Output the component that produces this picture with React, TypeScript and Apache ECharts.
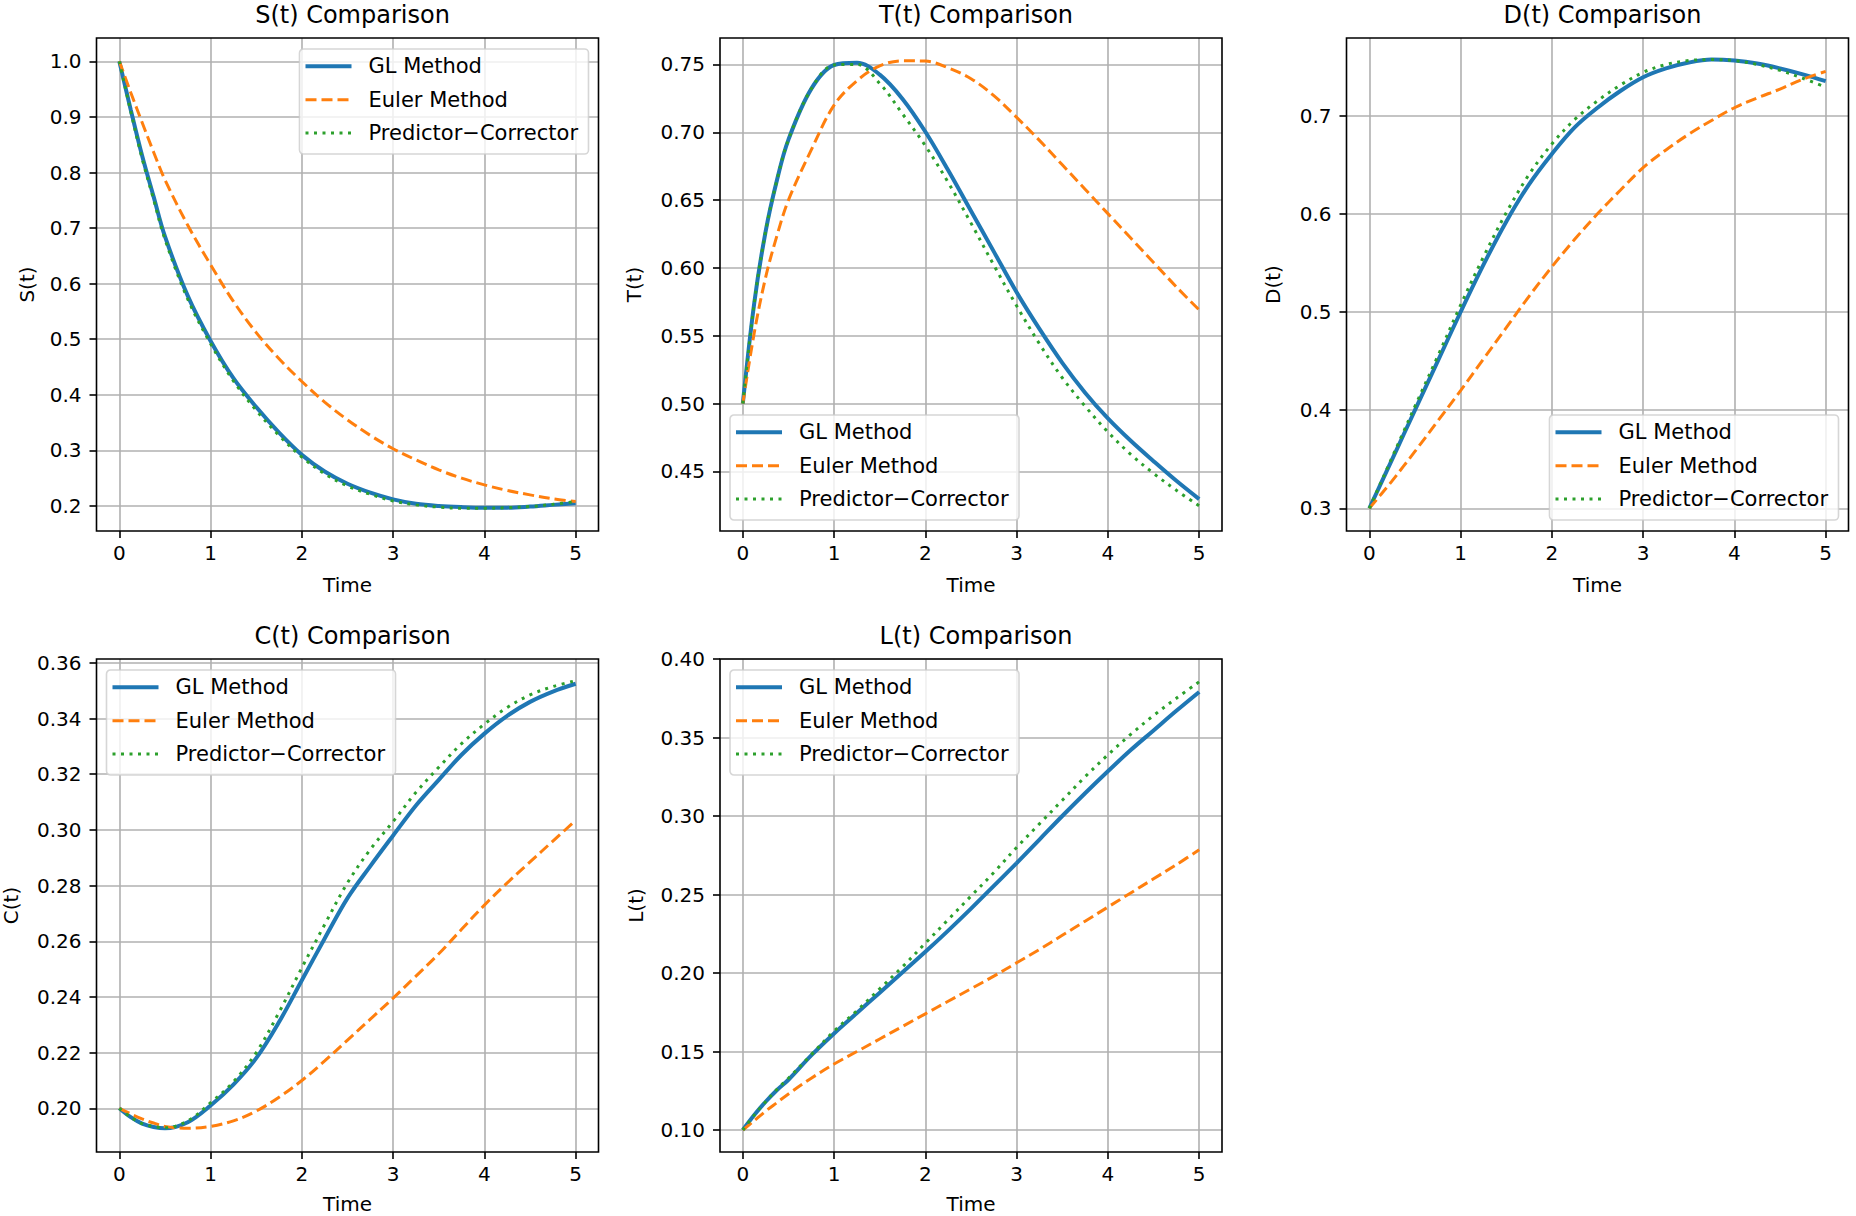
import React, { useEffect, useRef } from "react";
import * as echarts from "echarts";

// ---------- data ----------
const TIME = [0, 0.125, 0.25, 0.375, 0.5, 0.75, 1, 1.25, 1.5, 1.75, 2, 2.25, 2.5, 2.75, 3, 3.25, 3.5, 3.75, 4, 4.25, 4.5, 4.75, 5];

const S_GL = [1.0, 0.913, 0.83, 0.757, 0.685, 0.578, 0.497, 0.43, 0.378, 0.332, 0.292, 0.262, 0.24, 0.224, 0.212, 0.204, 0.2, 0.198, 0.197, 0.197, 0.199, 0.202, 0.205];
const S_EULER = [1.0, 0.944, 0.89, 0.837, 0.787, 0.705, 0.634, 0.568, 0.512, 0.465, 0.424, 0.387, 0.355, 0.327, 0.303, 0.283, 0.265, 0.25, 0.238, 0.228, 0.22, 0.213, 0.208];
const S_PC = [1.0, 0.91, 0.825, 0.752, 0.68, 0.572, 0.492, 0.425, 0.372, 0.327, 0.288, 0.258, 0.236, 0.221, 0.209, 0.202, 0.198, 0.196, 0.196, 0.197, 0.199, 0.203, 0.208];

const T_GL = [0.5, 0.574, 0.627, 0.665, 0.6946, 0.732, 0.7496, 0.7513, 0.7425, 0.7246, 0.7004, 0.672, 0.642, 0.612, 0.582, 0.555, 0.53, 0.508, 0.489, 0.4725, 0.4575, 0.443, 0.4295];
const T_EULER = [0.5, 0.552, 0.593, 0.624, 0.65, 0.687, 0.72, 0.738, 0.749, 0.7527, 0.7525, 0.7475, 0.7395, 0.727, 0.711, 0.694, 0.676, 0.658, 0.64, 0.622, 0.604, 0.586, 0.569];
const T_PC = [0.5, 0.574, 0.627, 0.665, 0.6946, 0.732, 0.7496, 0.75, 0.736, 0.7135, 0.69, 0.663, 0.633, 0.602, 0.572, 0.544, 0.519, 0.498, 0.479, 0.4625, 0.4485, 0.436, 0.4245];

const D_GL = [0.3, 0.325, 0.35, 0.375, 0.4, 0.45, 0.5, 0.548, 0.592, 0.63, 0.661, 0.688, 0.708, 0.725, 0.739, 0.748, 0.754, 0.757, 0.756, 0.753, 0.748, 0.742, 0.735];
const D_EULER = [0.3, 0.314, 0.328, 0.343, 0.358, 0.389, 0.42, 0.452, 0.484, 0.516, 0.546, 0.574, 0.6, 0.624, 0.647, 0.665, 0.681, 0.695, 0.708, 0.718, 0.727, 0.737, 0.745];
const D_PC = [0.3, 0.326, 0.352, 0.378, 0.404, 0.455, 0.507, 0.556, 0.601, 0.64, 0.671, 0.696, 0.715, 0.731, 0.744, 0.752, 0.756, 0.757, 0.756, 0.752, 0.746, 0.738, 0.729];

const C_GL = [0.2, 0.1968, 0.1945, 0.1933, 0.1928, 0.195, 0.201, 0.2085, 0.218, 0.231, 0.246, 0.261, 0.2755, 0.287, 0.298, 0.3088, 0.318, 0.327, 0.3346, 0.341, 0.346, 0.3497, 0.3525];
const C_EULER = [0.2, 0.198, 0.1962, 0.1947, 0.1935, 0.1928, 0.1935, 0.1955, 0.199, 0.204, 0.21, 0.217, 0.2245, 0.232, 0.2396, 0.2475, 0.2555, 0.2643, 0.273, 0.281, 0.2885, 0.296, 0.3034];
const C_PC = [0.2, 0.1968, 0.1945, 0.1935, 0.193, 0.1955, 0.202, 0.2095, 0.22, 0.2345, 0.2505, 0.266, 0.281, 0.293, 0.303, 0.3135, 0.3225, 0.331, 0.338, 0.344, 0.3485, 0.3515, 0.3536];

const L_GL = [0.1, 0.1095, 0.118, 0.1255, 0.132, 0.1475, 0.1615, 0.1745, 0.1875, 0.2005, 0.2135, 0.227, 0.241, 0.2555, 0.27, 0.285, 0.3, 0.3145, 0.3285, 0.342, 0.3545, 0.367, 0.379];
const L_EULER = [0.1, 0.106, 0.112, 0.1175, 0.123, 0.133, 0.142, 0.15, 0.158, 0.166, 0.174, 0.182, 0.19, 0.198, 0.2065, 0.215, 0.224, 0.233, 0.242, 0.251, 0.26, 0.269, 0.2785];
const L_PC = [0.1, 0.1095, 0.118, 0.126, 0.133, 0.148, 0.163, 0.176, 0.19, 0.204, 0.219, 0.234, 0.249, 0.264, 0.28, 0.295, 0.31, 0.325, 0.339, 0.352, 0.364, 0.375, 0.3855];

const X_TICKS = [0, 1, 2, 3, 4, 5];
const S_TICKS = [0.2, 0.3, 0.4, 0.5, 0.6, 0.7, 0.8, 0.9, 1.0];
const T_TICKS = [0.45, 0.5, 0.55, 0.6, 0.65, 0.7, 0.75];
const D_TICKS = [0.3, 0.4, 0.5, 0.6, 0.7];
const C_TICKS = [0.2, 0.22, 0.24, 0.26, 0.28, 0.3, 0.32, 0.34, 0.36];
const L_TICKS = [0.1, 0.15, 0.2, 0.25, 0.3, 0.35, 0.4];

const LABELS = ["GL Method", "Euler Method", "Predictor\u2212Corrector"];
const TITLES = ["S(t) Comparison", "T(t) Comparison", "D(t) Comparison", "C(t) Comparison", "L(t) Comparison"];
const Y_NAMES = ["S(t)", "T(t)", "D(t)", "C(t)", "L(t)"];

// ---------- layout / style ----------
const FONT = '"DejaVu Sans", "Liberation Sans", sans-serif';
const COL_LEFT = [96.5, 720, 1346.5];
const ROW_TOP = [38, 659];
const PW = 502;
const PH = 493;
const LEG_W = 289;
const LEG_H = 105;
const COLORS = ["#1f77b4", "#ff7f0e", "#2ca02c"];
const WIDTHS = [4, 3, 3];
const DASHES: any[] = ["solid", [11, 5], [3, 5.5]];

const PANELS = [
  { series: [S_GL, S_EULER, S_PC], ticks: S_TICKS, ymin: 0.155, ymax: 1.042, dec: 1, col: 0, row: 0, legend: "ur", nameGap: 60 },
  { series: [T_GL, T_EULER, T_PC], ticks: T_TICKS, ymin: 0.406, ymax: 0.7695, dec: 2, col: 1, row: 0, legend: "ll", nameGap: 76.5 },
  { series: [D_GL, D_EULER, D_PC], ticks: D_TICKS, ymin: 0.277, ymax: 0.779, dec: 1, col: 2, row: 0, legend: "lr", nameGap: 64 },
  { series: [C_GL, C_EULER, C_PC], ticks: C_TICKS, ymin: 0.1843, ymax: 0.3614, dec: 2, col: 0, row: 1, legend: "ul", nameGap: 76 },
  { series: [L_GL, L_EULER, L_PC], ticks: L_TICKS, ymin: 0.086, ymax: 0.4, dec: 2, col: 1, row: 1, legend: "ul", nameGap: 74 },
];

function buildOption() {
  const grid: any[] = [];
  const xAxis: any[] = [];
  const yAxis: any[] = [];
  const series: any[] = [];
  const title: any[] = [];
  const graphic: any[] = [];

  PANELS.forEach((p, i) => {
    const left = COL_LEFT[p.col];
    const top = ROW_TOP[p.row];
    grid.push({
      left, top, width: PW, height: PH,
      containLabel: false, outerBoundsMode: "none",
      show: true, backgroundColor: "#fff", borderWidth: 0,
    });
    title.push({
      text: TITLES[i],
      left: left + PW / 2,
      textAlign: "center",
      top: top - 40,
      textStyle: { fontFamily: FONT, fontSize: 24, fontWeight: "normal", color: "#000" },
    });
    xAxis.push({
      type: "value", gridIndex: i, min: -0.25, max: 5.25,
      name: "Time", nameLocation: "middle", nameGap: p.row === 0 ? 44 : 42,
      nameTextStyle: { fontFamily: FONT, fontSize: 20, color: "#000" },
      axisLine: { show: false, onZero: false },
      axisTick: { show: true, inside: false, length: 7, lineStyle: { color: "#000", width: 1.6 }, customValues: X_TICKS },
      axisLabel: { show: true, margin: 12, fontFamily: FONT, fontSize: 20, color: "#000", customValues: X_TICKS, formatter: (v: number) => String(v) },
      splitLine: { show: true, lineStyle: { color: "#b0b0b0", width: 1.6 } },
    });
    yAxis.push({
      type: "value", gridIndex: i, min: p.ymin, max: p.ymax,
      name: Y_NAMES[i], nameLocation: "middle", nameGap: p.nameGap, nameRotate: 90,
      nameTextStyle: { fontFamily: FONT, fontSize: 20, color: "#000" },
      axisLine: { show: false, onZero: false },
      axisTick: { show: true, inside: false, length: 7, lineStyle: { color: "#000", width: 1.6 }, customValues: p.ticks },
      axisLabel: { show: true, margin: 15, fontFamily: FONT, fontSize: 20, color: "#000", customValues: p.ticks, formatter: (v: number) => v.toFixed(p.dec) },
      splitLine: { show: true, lineStyle: { color: "#b0b0b0", width: 1.6 } },
    });
    p.series.forEach((arr, k) => {
      series.push({
        type: "line", name: LABELS[k], xAxisIndex: i, yAxisIndex: i,
        data: TIME.map((t, j) => [t, arr[j]]),
        showSymbol: false, symbol: "none", smooth: 0.35, silent: true,
        z: 2 + k,
        lineStyle: { color: COLORS[k], width: WIDTHS[k], type: DASHES[k], cap: "butt" },
      });
    });
    // frame (axes spines)
    graphic.push({
      type: "rect", z: 50, silent: true,
      shape: { x: left, y: top, width: PW, height: PH },
      style: { fill: "none", stroke: "#000", lineWidth: 1.6 },
    });
    // legend box
    let lx = left + 10;
    let ly = top + 11;
    if (p.legend === "ur") lx = left + PW - 10 - LEG_W;
    if (p.legend === "lr") { lx = left + PW - 10 - LEG_W; ly = top + PH - 11 - LEG_H; }
    if (p.legend === "ll") { ly = top + PH - 11 - LEG_H; }
    const rowsY = [17.3, 50.7, 84];
    const children: any[] = [
      {
        type: "rect", z: 100, shape: { x: 0, y: 0, width: LEG_W, height: LEG_H, r: 4 },
        style: { fill: "rgba(255,255,255,0.8)", stroke: "rgba(204,204,204,0.8)", lineWidth: 1.6 },
      },
    ];
    LABELS.forEach((lab, k) => {
      children.push({
        type: "line", z: 101, shape: { x1: 6, y1: rowsY[k], x2: 52, y2: rowsY[k] },
        style: { stroke: COLORS[k], lineWidth: WIDTHS[k], lineDash: DASHES[k] === "solid" ? null : DASHES[k] },
      });
      children.push({
        type: "text", z: 101, x: 69, y: rowsY[k],
        style: { text: lab, fill: "#000", font: `21px ${FONT}`, verticalAlign: "middle", align: "left" },
      });
    });
    graphic.push({ type: "group", x: lx, y: ly, z: 100, silent: true, children });
  });

  return {
    animation: false,
    backgroundColor: "#fff",
    title, grid, xAxis, yAxis, series, graphic,
  };
}

export default function App() {
  const ref = useRef<HTMLDivElement>(null);
  useEffect(() => {
    document.body.style.margin = "0";
    if (!ref.current) return;
    const chart = echarts.init(ref.current, null, { renderer: "svg" });
    chart.setOption(buildOption() as any);
    return () => chart.dispose();
  }, []);
  return (
    <div
      ref={ref}
      style={{ position: "fixed", left: 0, top: 0, width: 1856, height: 1216, background: "#fff" }}
    />
  );
}
